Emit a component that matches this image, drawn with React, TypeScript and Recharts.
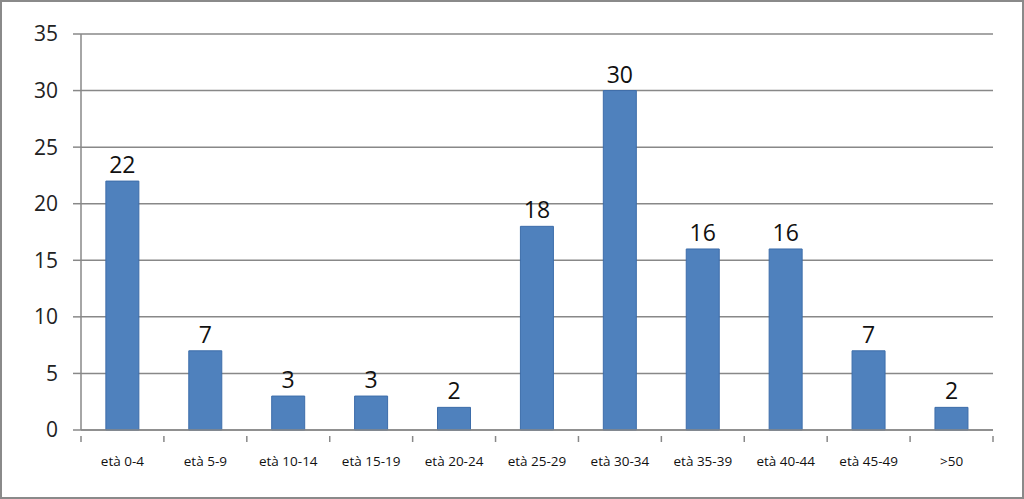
import React from 'react';
import { BarChart, Bar, XAxis, YAxis, CartesianGrid, LabelList } from 'recharts';

const categories = ['età 0-4', 'età 5-9', 'età 10-14', 'età 15-19', 'età 20-24', 'età 25-29', 'età 30-34', 'età 35-39', 'età 40-44', 'età 45-49', '>50'];
const values = [22, 7, 3, 3, 2, 18, 30, 16, 16, 7, 2];
const yTicks = [0, 5, 10, 15, 20, 25, 30, 35];

const data = categories.map((c, i) => ({ name: c, value: values[i] }));

const XTick = (props: any) => {
  const { x, y, payload, width, visibleTicksCount, index } = props;
  const band = width / visibleTicksCount;
  const axisY = y;
  return (
    <g>
      <line x1={x - band / 2} x2={x - band / 2} y1={axisY} y2={axisY + 6} stroke="#888" strokeWidth={1.5} />
      {index === visibleTicksCount - 1 && (
        <line x1={x + band / 2} x2={x + band / 2} y1={axisY} y2={axisY + 6} stroke="#888" strokeWidth={1.5} />
      )}
      <text x={x} y={axisY + 30} textAnchor="middle" fontSize={13.5} fill="#111" fontFamily="'Open Sans', sans-serif">
        {payload.value}
      </text>
    </g>
  );
};

export default function App() {
  return (
    <div style={{ position: 'absolute', left: 0, top: 0, width: 1024, height: 499, boxSizing: 'border-box', border: '2px solid #8a8a8a', background: '#fff' }}>
      <BarChart width={1020} height={495} data={data} margin={{ top: 32, right: 29, left: 0, bottom: 37 }} barCategoryGap="30%">
        <CartesianGrid vertical={false} stroke="#888" strokeWidth={1.5} />
        <XAxis dataKey="name" interval={0} height={30} tickLine={false} axisLine={{ stroke: '#888', strokeWidth: 1.5 }} tick={<XTick />} tickMargin={0} />
        <YAxis width={79} domain={[0, 35]} ticks={yTicks} interval={0} tickSize={8} tickMargin={15} axisLine={{ stroke: '#888', strokeWidth: 1.5 }} tickLine={{ stroke: '#888', strokeWidth: 1.5 }} tick={{ fontSize: 21, fill: '#222', fontFamily: "'Open Sans', sans-serif" }} />
        <Bar dataKey="value" fill="#4F81BD" stroke="#3D6DAA" strokeWidth={1} isAnimationActive={false}>
          <LabelList dataKey="value" position="top" offset={8} style={{ fontSize: 23, fill: '#111', fontFamily: "'Open Sans', sans-serif" }} />
        </Bar>
      </BarChart>
    </div>
  );
}
